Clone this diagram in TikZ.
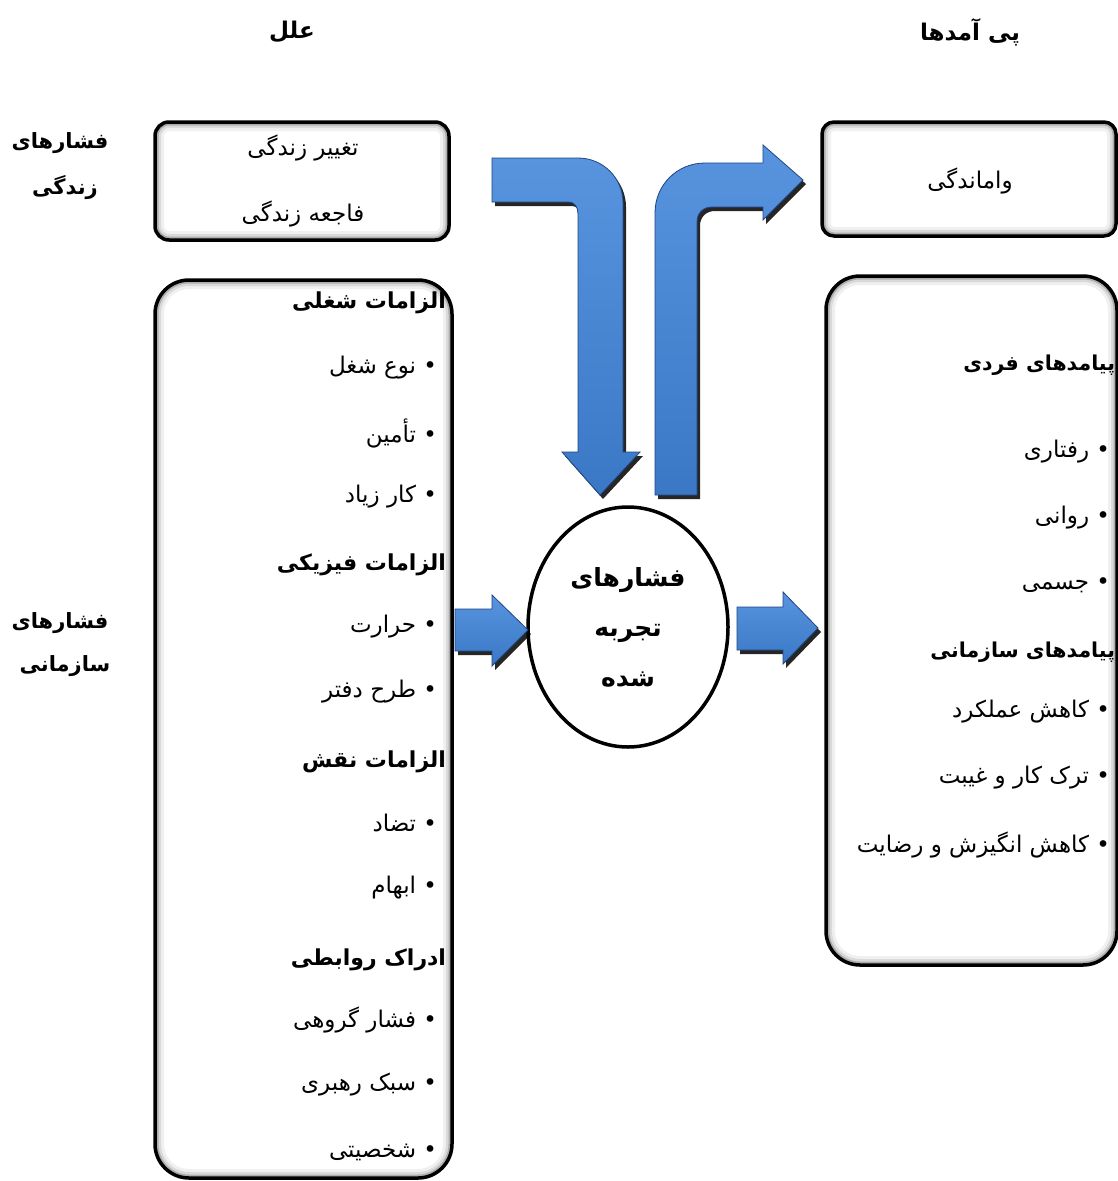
\documentclass[tikz,border=0pt]{standalone}
\usepackage{fontspec}
\newfontfamily\fa[Script=Arabic]{DejaVu Sans}
\TeXXeTstate=1
\usetikzlibrary{shapes.geometric}
\definecolor{ablue}{RGB}{58,120,198}
\definecolor{alight}{RGB}{88,148,222}
\definecolor{adark}{RGB}{30,70,130}
\newcommand\RT[1]{\beginR #1\endR}
\newcommand\glowbox[3]{%
  \begin{scope}
    \clip[rounded corners=#1] #2 rectangle #3;
    \draw[rounded corners=#1, line width=18, black!6, xshift=6] #2 rectangle #3;
    \draw[rounded corners=#1, line width=12, black!15, xshift=6] #2 rectangle #3;
    \draw[rounded corners=#1, line width=7, black!32, xshift=5] #2 rectangle #3;
  \end{scope}
  \draw[rounded corners=#1, line width=3.5] #2 rectangle #3;}
\begin{document}
\begin{tikzpicture}[x=1pt,y=-1pt,
  every node/.style={inner sep=0pt, outer sep=0pt},
  area/.style={minimum width=#1, draw=none},
  item/.style={anchor=east, font=\fa\fontsize{23}{26}\selectfont},
  head/.style={anchor=east, font=\fa\bfseries\fontsize{22}{26}\selectfont},
  rhead/.style={anchor=east, font=\fa\bfseries\fontsize{20.5}{26}\selectfont},
  toptitle/.style={font=\fa\bfseries\fontsize{23}{26}\selectfont},
  sidetitle/.style={font=\fa\bfseries\fontsize{21}{26}\selectfont},
  boxtext/.style={font=\fa\fontsize{23}{26}\selectfont},
  barrow/.style={top color=alight, bottom color=ablue, draw=adark, line width=0.8},
  sarrow/.style={top color=alight, bottom color=ablue, draw=adark, line width=0.8},
  bshadow/.style={fill=black, opacity=0.85},
  downpath/.style={insert path={(492,158) -- (578,158) .. controls (603,158) and (623,178) .. (623,203) -- (623,452) -- (640,452) -- (600,495) -- (562,452) -- (578,452) -- (578,214) .. controls (578,207) and (575,202) .. (568,202) -- (492,202) -- cycle}},
  uppath/.style={insert path={(655,495) -- (655,213) .. controls (655,185) and (677,163) .. (705,163) -- (763,163) -- (763,145) -- (803,180) -- (763,220) -- (763,207) -- (712,207) .. controls (703,207) and (697,213) .. (697,222) -- (697,495) -- cycle}},
  inpath/.style={insert path={(455,609) -- (492,609) -- (492,595) -- (528,630) -- (492,666) -- (492,651) -- (455,651) -- cycle}},
  outpath/.style={insert path={(737,607) -- (783,607) -- (783,592) -- (818,628) -- (783,664) -- (783,650) -- (737,650) -- cycle}}
]
\useasboundingbox[fill=white] (0,0) rectangle (1118,1181);

% titles
\node[toptitle] (tcause) at (292,32) {\RT{علل}};
\node[toptitle] (tcons) at (970,32) {\RT{پی آمدها}};
\node[sidetitle] (s1a) at (60,143) {\RT{فشارهای}};
\node[sidetitle] (s1b) at (65,188) {\RT{زندگی}};
\node[sidetitle] (s2a) at (60,623) {\RT{فشارهای}};
\node[sidetitle] (s2b) at (65,666) {\RT{سازمانی}};

% box areas
\node[area=294, minimum height=118] (life) at (302,181) {};
\node[area=297, minimum height=898] (org) at (303.5,729) {};
\node[area=294, minimum height=114] (exh) at (969,179) {};
\node[area=291, minimum height=689] (cons) at (971.5,620.5) {};

\glowbox{14}{(life.north west)}{(life.south east)}
\glowbox{34}{(org.north west)}{(org.south east)}
\glowbox{12}{(exh.north west)}{(exh.south east)}
\glowbox{34}{(cons.north west)}{(cons.south east)}

% box texts
\node[boxtext] (l1) at (303,148) {\RT{تغییر زندگی}};
\node[boxtext] (l2) at (303,214) {\RT{فاجعه زندگی}};
\node[boxtext] (e1) at (970,181) {\RT{واماندگی}};

% left list
\node[head] (h1) at (446,303) {\RT{الزامات شغلی}};
\node[item] (i1) at (437,368) {\RT{• نوع شغل}};
\node[item] (i2) at (437,433) {\RT{• تأمین}};
\node[item] (i3) at (437,497) {\RT{• کار زیاد}};
\node[head] (h2) at (446,565) {\RT{الزامات فیزیکی}};
\node[item] (i4) at (437,627) {\RT{• حرارت}};
\node[item] (i5) at (437,692) {\RT{• طرح دفتر}};
\node[head] (h3) at (446,762) {\RT{الزامات نقش}};
\node[item] (i6) at (437,823) {\RT{• تضاد}};
\node[item] (i7) at (437,888) {\RT{• ابهام}};
\node[head] (h4) at (446,960) {\RT{ادراک روابطی}};
\node[item] (i8) at (437,1020) {\RT{• فشار گروهی}};
\node[item] (i9) at (437,1085) {\RT{• سبک رهبری}};
\node[item] (i10) at (437,1152) {\RT{• شخصیتی}};

% right list
\node[rhead] (r1) at (1115,365) {\RT{پیامدهای فردی}};
\node[item] (j1) at (1110,452) {\RT{• رفتاری}};
\node[item] (j2) at (1110,518) {\RT{• روانی}};
\node[item] (j3) at (1110,585) {\RT{• جسمی}};
\node[rhead] (r2) at (1115,652) {\RT{پیامدهای سازمانی}};
\node[item] (j4) at (1110,712) {\RT{• کاهش عملکرد}};
\node[item] (j5) at (1110,778) {\RT{• ترک کار و غیبت}};
\node[item] (j6) at (1110,845) {\RT{• کاهش انگیزش و رضایت}};

% central ellipse
\node[draw, ellipse, line width=3.5, fill=white, minimum width=200, minimum height=240,
      align=center, font=\fa\bfseries\fontsize{25}{50}\selectfont] (ell) at (628,627)
      {\RT{فشارهای}\\\RT{تجربه}\\\RT{شده}};

% block arrows
\path[shift={(3,4)}, bshadow, downpath];
\path[barrow, downpath];
\path[shift={(3,4)}, bshadow, uppath];
\path[barrow, uppath];
\path[shift={(3,4)}, bshadow, inpath];
\path[sarrow, inpath];
\path[shift={(3,4)}, bshadow, outpath];
\path[sarrow, outpath];
\end{tikzpicture}
\end{document}
